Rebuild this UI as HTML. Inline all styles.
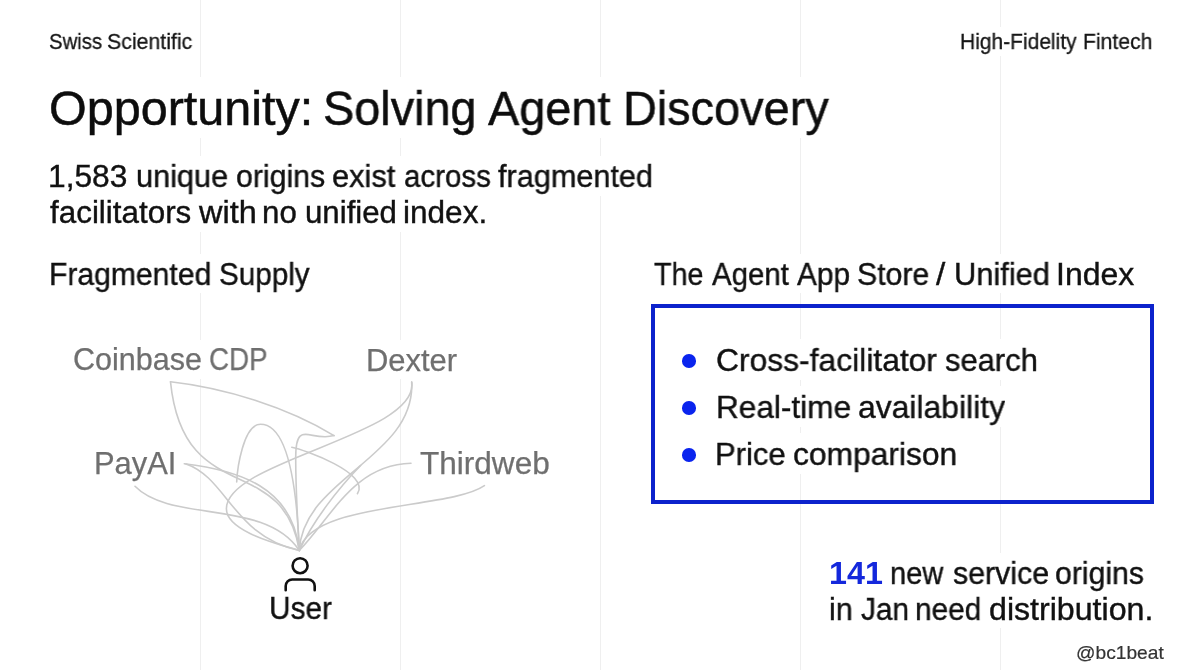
<!DOCTYPE html>
<html>
<head>
<meta charset="utf-8">
<style>
html,body{margin:0;padding:0;}
body{width:1200px;height:670px;overflow:hidden;background:#fff;position:relative;font-family:"Liberation Sans",sans-serif;color:#111;}
.g{position:absolute;top:0;width:1px;height:670px;background:#efefef;}
.bg{position:absolute;background:#fff;}
.t{position:absolute;white-space:nowrap;line-height:1;transform-origin:0 0;will-change:transform;}
#box{position:absolute;left:651px;top:304px;width:503px;height:200px;box-sizing:border-box;border:4.5px solid #0c22cc;}
.dot{position:absolute;width:13.6px;height:13.6px;border-radius:50%;background:#0a24ee;}
</style>
</head>
<body>
<div class="g" style="left:200px"></div>
<div class="g" style="left:400px"></div>
<div class="g" style="left:600px"></div>
<div class="g" style="left:800px"></div>
<div class="g" style="left:1000px"></div>
<div id="box"></div>
<div class="dot" style="left:682.2px;top:354.4px"></div>
<div class="dot" style="left:682.2px;top:401.4px"></div>
<div class="dot" style="left:682.2px;top:448.4px"></div>
<svg style="position:absolute;left:0;top:0" width="1200" height="670" viewBox="0 0 1200 670">
<g fill="none" stroke="#cbcbcb" stroke-width="1.6" stroke-linecap="round">
<path d="M170.5,381.8 C225.1,387.9 286.8,407.2 334.0,435.6"/>
<path d="M334.0,435.6 C310.2,442.2 295.7,418.3 295.7,457.5 C295.7,489.3 297.4,518.8 299.3,550.5"/>
<path d="M170.5,381.8 C183.5,508.7 283.1,451.1 299.3,550.5"/>
<path d="M236.7,482.0 C237.2,469.4 243.2,424.3 260.5,424.3 C295.5,424.3 298.3,528.3 299.3,550.5"/>
<path d="M411.7,382.0 C419.9,434.6 226.4,460.6 226.4,508.7 C226.4,532.3 282.9,545.2 299.3,550.5"/>
<path d="M411.7,382.0 C415.3,458.0 303.0,477.5 299.3,550.5"/>
<path d="M360.6,465.5 C338.0,488.7 313.0,521.0 299.3,550.5"/>
<path d="M411.0,463.3 C354.2,464.9 333.1,515.0 299.3,550.5"/>
<path d="M184.3,463.7 C239.0,470.3 292.4,486.9 299.3,550.5"/>
<path d="M186.0,463.9 C226.9,477.7 234.0,537.1 299.3,550.5"/>
<path d="M135.0,486.3 C170.8,523.1 265.3,498.8 299.3,550.5"/>
<path d="M484.4,485.7 C450.0,509.7 310.3,501.6 299.3,550.5"/>
<path d="M291.8,447.2 C303.2,449.3 371.4,473.4 357.4,493.7"/>
</g>
</svg>
<div class="bg" style="left:48.0px;top:27.4px;width:146.0px;height:28.2px"></div>
<div class="bg" style="left:960.0px;top:27.4px;width:193.3px;height:28.2px"></div>
<div class="bg" style="left:49.0px;top:77.3px;width:782.0px;height:60.9px"></div>
<div class="bg" style="left:48.7px;top:156.2px;width:604.8px;height:39.8px"></div>
<div class="bg" style="left:48.7px;top:191.8px;width:437.7px;height:39.8px"></div>
<div class="bg" style="left:49.3px;top:253.6px;width:262.7px;height:39.8px"></div>
<div class="bg" style="left:652.2px;top:253.6px;width:484.1px;height:39.8px"></div>
<div class="bg" style="left:715.5px;top:338.6px;width:322.3px;height:41.0px"></div>
<div class="bg" style="left:716.2px;top:385.6px;width:291.3px;height:41.0px"></div>
<div class="bg" style="left:715.9px;top:432.6px;width:241.0px;height:41.0px"></div>
<div class="bg" style="left:72.7px;top:339.5px;width:195.6px;height:39.1px"></div>
<div class="bg" style="left:366.5px;top:339.6px;width:92.5px;height:39.1px"></div>
<div class="bg" style="left:94.5px;top:443.2px;width:81.5px;height:39.1px"></div>
<div class="bg" style="left:418.7px;top:443.2px;width:132.0px;height:39.1px"></div>
<div class="bg" style="left:268.8px;top:587.9px;width:64.5px;height:39.8px"></div>
<div class="bg" style="left:829.0px;top:553.3px;width:316.1px;height:39.8px"></div>
<div class="bg" style="left:829.0px;top:588.6px;width:323.3px;height:39.8px"></div>
<div class="bg" style="left:1075.7px;top:640.7px;width:90.3px;height:23.7px"></div>
<svg style="position:absolute;left:280px;top:553px" width="40" height="42" viewBox="0 0 40 42">
<g fill="none" stroke="#111" stroke-width="2.6" stroke-linecap="round">
<circle cx="20.1" cy="12.7" r="7.5"/>
<path d="M5.7 37.3 V33 a6.5 6.5 0 0 1 6.5 -6.5 H28.2 a6.5 6.5 0 0 1 6.5 6.5 V37.3"/>
</g>
</svg>
<div class="t" style="left:49.31px;top:30.97px;font-size:22px;color:#161616;transform:scaleX(0.9241);-webkit-text-stroke:0.3px #161616;">Swiss</div>
<div class="t" style="left:107.27px;top:30.97px;font-size:22px;color:#161616;transform:scaleX(0.9683);-webkit-text-stroke:0.3px #161616;">Scientific</div>
<div class="t" style="left:960.33px;top:30.97px;font-size:22px;color:#161616;transform:scaleX(0.9535);-webkit-text-stroke:0.3px #161616;">High-Fidelity</div>
<div class="t" style="left:1083.07px;top:30.97px;font-size:22px;color:#161616;transform:scaleX(0.9610);-webkit-text-stroke:0.3px #161616;">Fintech</div>
<div class="t" style="left:48.96px;top:85.08px;font-size:47.5px;color:#0d0d0d;transform:scaleX(1.0216);-webkit-text-stroke:0.5px #0d0d0d;">Opportunity:</div>
<div class="t" style="left:323.03px;top:85.08px;font-size:47.5px;color:#0d0d0d;transform:scaleX(0.9854);-webkit-text-stroke:0.5px #0d0d0d;">Solving</div>
<div class="t" style="left:488.45px;top:85.08px;font-size:47.5px;color:#0d0d0d;transform:scaleX(0.9867);-webkit-text-stroke:0.5px #0d0d0d;">Agent</div>
<div class="t" style="left:623.00px;top:85.08px;font-size:47.5px;color:#0d0d0d;transform:scaleX(0.9868);-webkit-text-stroke:0.5px #0d0d0d;">Discovery</div>
<div class="t" style="left:48.40px;top:161.35px;font-size:31px;color:#111111;transform:scaleX(1.0236);-webkit-text-stroke:0.4px #111111;">1,583</div>
<div class="t" style="left:135.57px;top:161.35px;font-size:31px;color:#111111;transform:scaleX(0.9906);-webkit-text-stroke:0.4px #111111;">unique</div>
<div class="t" style="left:235.82px;top:161.35px;font-size:31px;color:#111111;transform:scaleX(0.9770);-webkit-text-stroke:0.4px #111111;">origins</div>
<div class="t" style="left:331.76px;top:161.35px;font-size:31px;color:#111111;transform:scaleX(0.9920);-webkit-text-stroke:0.4px #111111;">exist</div>
<div class="t" style="left:404.05px;top:161.35px;font-size:31px;color:#111111;transform:scaleX(0.9524);-webkit-text-stroke:0.4px #111111;">across</div>
<div class="t" style="left:498.25px;top:161.35px;font-size:31px;color:#111111;transform:scaleX(0.9887);-webkit-text-stroke:0.4px #111111;">fragmented</div>
<div class="t" style="left:50.45px;top:196.95px;font-size:31px;color:#111111;transform:scaleX(1.0127);-webkit-text-stroke:0.4px #111111;">facilitators</div>
<div class="t" style="left:198.96px;top:196.95px;font-size:31px;color:#111111;transform:scaleX(1.0467);-webkit-text-stroke:0.4px #111111;">with</div>
<div class="t" style="left:262.24px;top:196.95px;font-size:31px;color:#111111;transform:scaleX(1.0079);-webkit-text-stroke:0.4px #111111;">no</div>
<div class="t" style="left:304.94px;top:196.95px;font-size:31px;color:#111111;transform:scaleX(1.0063);-webkit-text-stroke:0.4px #111111;">unified</div>
<div class="t" style="left:402.96px;top:196.95px;font-size:31px;color:#111111;transform:scaleX(1.0179);-webkit-text-stroke:0.4px #111111;">index.</div>
<div class="t" style="left:49.12px;top:258.75px;font-size:31px;color:#111111;transform:scaleX(0.9706);-webkit-text-stroke:0.4px #111111;">Fragmented</div>
<div class="t" style="left:219.21px;top:258.75px;font-size:31px;color:#111111;transform:scaleX(0.9557);-webkit-text-stroke:0.4px #111111;">Supply</div>
<div class="t" style="left:653.74px;top:258.75px;font-size:31px;color:#111111;transform:scaleX(0.9237);-webkit-text-stroke:0.4px #111111;">The</div>
<div class="t" style="left:711.74px;top:258.75px;font-size:31px;color:#111111;transform:scaleX(0.9477);-webkit-text-stroke:0.4px #111111;">Agent</div>
<div class="t" style="left:797.14px;top:258.75px;font-size:31px;color:#111111;transform:scaleX(0.9604);-webkit-text-stroke:0.4px #111111;">App</div>
<div class="t" style="left:857.28px;top:258.75px;font-size:31px;color:#111111;transform:scaleX(0.9756);-webkit-text-stroke:0.4px #111111;">Store</div>
<div class="t" style="left:936.07px;top:258.75px;font-size:31px;color:#111111;transform:scaleX(1.0778);-webkit-text-stroke:0.4px #111111;">/</div>
<div class="t" style="left:954.06px;top:258.75px;font-size:31px;color:#111111;transform:scaleX(0.9935);-webkit-text-stroke:0.4px #111111;">Unified</div>
<div class="t" style="left:1056.16px;top:258.75px;font-size:31px;color:#111111;transform:scaleX(1.0315);-webkit-text-stroke:0.4px #111111;">Index</div>
<div class="t" style="left:716.01px;top:343.91px;font-size:32px;color:#111111;transform:scaleX(0.9941);-webkit-text-stroke:0.4px #111111;">Cross-facilitator</div>
<div class="t" style="left:944.67px;top:343.91px;font-size:32px;color:#111111;transform:scaleX(0.9668);-webkit-text-stroke:0.4px #111111;">search</div>
<div class="t" style="left:715.73px;top:390.91px;font-size:32px;color:#111111;transform:scaleX(0.9861);-webkit-text-stroke:0.4px #111111;">Real-time</div>
<div class="t" style="left:858.36px;top:390.91px;font-size:32px;color:#111111;transform:scaleX(0.9959);-webkit-text-stroke:0.4px #111111;">availability</div>
<div class="t" style="left:715.47px;top:437.91px;font-size:32px;color:#111111;transform:scaleX(0.9704);-webkit-text-stroke:0.4px #111111;">Price</div>
<div class="t" style="left:792.56px;top:437.91px;font-size:32px;color:#111111;transform:scaleX(0.9929);-webkit-text-stroke:0.4px #111111;">comparison</div>
<div class="t" style="left:73.20px;top:344.48px;font-size:30.5px;color:#6f6f6f;transform:scaleX(0.9968);-webkit-text-stroke:0.25px #6f6f6f;">Coinbase</div>
<div class="t" style="left:208.93px;top:344.48px;font-size:30.5px;color:#6f6f6f;transform:scaleX(0.9106);-webkit-text-stroke:0.25px #6f6f6f;">CDP</div>
<div class="t" style="left:366.22px;top:344.58px;font-size:30.5px;color:#6f6f6f;transform:scaleX(1.0143);-webkit-text-stroke:0.25px #6f6f6f;">Dexter</div>
<div class="t" style="left:94.22px;top:448.18px;font-size:30.5px;color:#6f6f6f;transform:scaleX(1.0131);-webkit-text-stroke:0.25px #6f6f6f;">PayAI</div>
<div class="t" style="left:420.18px;top:448.18px;font-size:30.5px;color:#6f6f6f;transform:scaleX(1.0343);-webkit-text-stroke:0.25px #6f6f6f;">Thirdweb</div>
<div class="t" style="left:268.64px;top:593.05px;font-size:31px;color:#111111;transform:scaleX(0.9603);-webkit-text-stroke:0.4px #111111;">User</div>
<div class="t" style="left:828.92px;top:558.45px;font-size:31px;color:#1428dc;transform:scaleX(1.0408);font-weight:bold;">141</div>
<div class="t" style="left:890.06px;top:558.45px;font-size:31px;color:#111111;transform:scaleX(0.9369);-webkit-text-stroke:0.4px #111111;">new</div>
<div class="t" style="left:952.67px;top:558.45px;font-size:31px;color:#111111;transform:scaleX(0.9787);-webkit-text-stroke:0.4px #111111;">service</div>
<div class="t" style="left:1055.13px;top:558.45px;font-size:31px;color:#111111;transform:scaleX(0.9748);-webkit-text-stroke:0.4px #111111;">origins</div>
<div class="t" style="left:829.04px;top:593.75px;font-size:31px;color:#111111;transform:scaleX(0.9778);-webkit-text-stroke:0.4px #111111;">in</div>
<div class="t" style="left:861.16px;top:593.75px;font-size:31px;color:#111111;transform:scaleX(0.9604);-webkit-text-stroke:0.4px #111111;">Jan</div>
<div class="t" style="left:915.42px;top:593.75px;font-size:31px;color:#111111;transform:scaleX(0.9603);-webkit-text-stroke:0.4px #111111;">need</div>
<div class="t" style="left:988.56px;top:593.75px;font-size:31px;color:#111111;transform:scaleX(1.0368);-webkit-text-stroke:0.4px #111111;">distribution.</div>
<div class="t" style="left:1076.40px;top:643.74px;font-size:18.5px;color:#333333;transform:scaleX(1.0366);-webkit-text-stroke:0.2px #333333;">@bc1beat</div>
</body>
</html>
